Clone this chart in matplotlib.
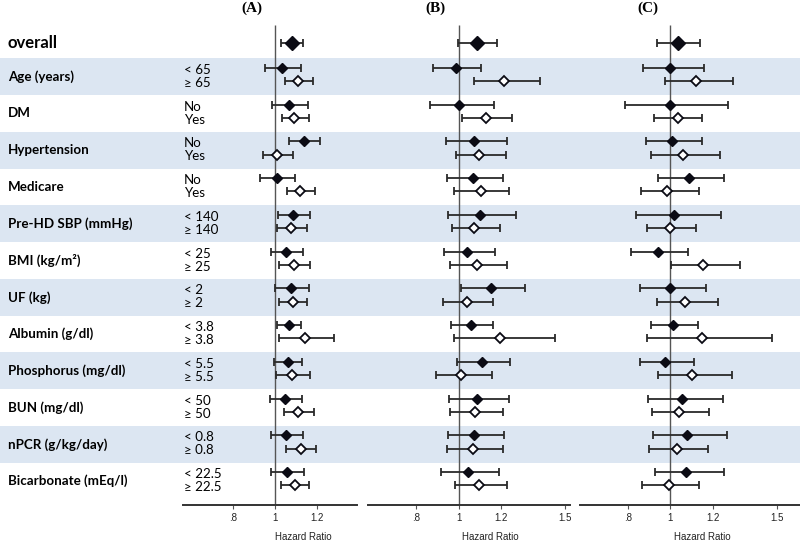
import matplotlib
matplotlib.use("Agg")
import matplotlib.pyplot as plt

# ---------------- data ----------------
groups = ["Age (years)", "DM", "Hypertension", "Medicare", "Pre-HD SBP (mmHg)",
          "BMI (kg/m²)", "UF (kg)", "Albumin (g/dl)", "Phosphorus (mg/dl)",
          "BUN (mg/dl)", "nPCR (g/kg/day)", "Bicarbonate (mEq/l)"]
sub_labels = [["< 65", "≥ 65"], ["No", "Yes"], ["No", "Yes"], ["No", "Yes"],
              ["< 140", "≥ 140"], ["< 25", "≥ 25"], ["< 2", "≥ 2"],
              ["< 3.8", "≥ 3.8"], ["< 5.5", "≥ 5.5"], ["< 50", "≥ 50"],
              ["< 0.8", "≥ 0.8"], ["< 22.5", "≥ 22.5"]]
panel_titles = ["(A)", "(B)", "(C)"]
ticks_A = [0.8, 1.0, 1.2]
ticks_BC = [0.8, 1.0, 1.2, 1.5]
tick_labels_A = [".8", "1", "1.2"]
tick_labels_BC = [".8", "1", "1.2", "1.5"]
xlabel = "Hazard Ratio"

# Panel A: overall (hr, lo, hi); per group [first, second]
overall_A = (1.081, 1.030, 1.136)
hr_A = [[1.036, 1.112], [1.067, 1.094], [1.141, 1.013], [1.011, 1.122],
        [1.089, 1.079], [1.054, 1.090], [1.078, 1.089], [1.068, 1.144],
        [1.062, 1.082], [1.049, 1.113], [1.052, 1.124], [1.059, 1.095]]
lo_A = [[0.954, 1.049], [0.989, 1.033], [1.070, 0.944], [0.930, 1.059],
        [1.014, 1.011], [0.982, 1.022], [1.001, 1.020], [1.013, 1.022],
        [0.998, 1.005], [0.978, 1.046], [0.981, 1.054], [0.982, 1.029]]
hi_A = [[1.124, 1.181], [1.157, 1.163], [1.217, 1.089], [1.097, 1.192],
        [1.168, 1.154], [1.135, 1.168], [1.162, 1.155], [1.125, 1.284],
        [1.129, 1.167], [1.130, 1.189], [1.133, 1.197], [1.141, 1.165]]

# Panel B
overall_B = (1.085, 0.995, 1.178)
hr_B = [[0.986, 1.214], [1.001, 1.127], [1.073, 1.097], [1.069, 1.103],
        [1.100, 1.073], [1.041, 1.085], [1.153, 1.038], [1.056, 1.192],
        [1.108, 1.012], [1.085, 1.077], [1.073, 1.069], [1.042, 1.095]]
lo_B = [[0.879, 1.073], [0.865, 1.017], [0.942, 0.986], [0.945, 0.979],
        [0.951, 0.969], [0.930, 0.958], [1.011, 0.928], [0.964, 0.977],
        [0.991, 0.892], [0.956, 0.961], [0.951, 0.945], [0.915, 0.983]]
hi_B = [[1.105, 1.380], [1.164, 1.250], [1.225, 1.222], [1.209, 1.235],
        [1.271, 1.194], [1.172, 1.225], [1.313, 1.163], [1.163, 1.454],
        [1.241, 1.156], [1.235, 1.209], [1.213, 1.208], [1.191, 1.225]]

# Panel C
overall_C = (1.034, 0.937, 1.141)
hr_C = [[1.000, 1.119], [0.997, 1.034], [1.006, 1.061], [1.087, 0.986],
        [1.017, 0.998], [0.941, 1.154], [0.998, 1.069], [1.014, 1.147],
        [0.976, 1.102], [1.057, 1.040], [1.078, 1.030], [1.075, 0.992]]
lo_C = [[0.870, 0.974], [0.786, 0.925], [0.884, 0.908], [0.942, 0.861],
        [0.841, 0.889], [0.816, 1.002], [0.857, 0.938], [0.909, 0.892],
        [0.857, 0.942], [0.896, 0.916], [0.919, 0.902], [0.930, 0.868]]
hi_C = [[1.156, 1.293], [1.272, 1.150], [1.147, 1.235], [1.254, 1.134],
        [1.237, 1.122], [1.083, 1.327], [1.166, 1.223], [1.128, 1.477],
        [1.113, 1.290], [1.246, 1.181], [1.265, 1.175], [1.251, 1.135]]

# ---------------- layout / style ----------------
W, H = 800, 542
AXIS_Y = 505
ROW0, PITCH = 58.3, 36.75
OVERALL_Y = 43
BAND = "#dce6f2"
LINE = "#2a2a2a"
MK = "#0b0b14"
FONT = ["Lato", "DejaVu Sans"]
SANS = ["Liberation Sans", "DejaVu Sans"]
SERIF = ["Liberation Serif", "DejaVu Serif"]

fig = plt.figure(figsize=(8, 5.42), dpi=100)
bg = fig.add_axes([0, 0, 1, 1])
bg.set_xlim(0, W)
bg.set_ylim(H, 0)
bg.axis("off")

for k, g in enumerate(groups):
    top = ROW0 + k * PITCH
    if k % 2 == 0:
        bg.axhspan(top, top + PITCH, color=BAND, lw=0, zorder=0)
    bg.text(8, top + PITCH / 2, g, ha="left", va="center", fontsize=9.6,
            fontweight="bold", family=FONT)
    bg.text(184, top + 11.5, sub_labels[k][0], ha="left", va="center",
            fontsize=9.6, family=FONT)
    bg.text(184, top + 24.5, sub_labels[k][1], ha="left", va="center",
            fontsize=9.6, family=FONT)
bg.text(8, OVERALL_Y, "overall", ha="left", va="center", fontsize=12,
        fontweight="bold", family=FONT)

panels = [
    dict(px=(183, 357), one=274.7, ppu=210, ov=overall_A, hr=hr_A, lo=lo_A, hi=hi_A,
         ticks=ticks_A, tl=tick_labels_A, title_x=252, xl_x=303),
    dict(px=(368, 570), one=458.7, ppu=213, ov=overall_B, hr=hr_B, lo=lo_B, hi=hi_B,
         ticks=ticks_BC, tl=tick_labels_BC, title_x=435, xl_x=490),
    dict(px=(580, 800), one=670.3, ppu=213, ov=overall_C, hr=hr_C, lo=lo_C, hi=hi_C,
         ticks=ticks_BC, tl=tick_labels_BC, title_x=648, xl_x=702),
]

for p, title in zip(panels, panel_titles):
    x0, x1 = p["px"]
    ax = fig.add_axes([x0 / W, (H - AXIS_Y) / H, (x1 - x0) / W, AXIS_Y / H])
    ax.patch.set_alpha(0)
    ax.set_xlim(1 + (x0 - p["one"]) / p["ppu"], 1 + (x1 - p["one"]) / p["ppu"])
    ax.set_ylim(AXIS_Y, 0)
    for s in ("top", "left", "right"):
        ax.spines[s].set_visible(False)
    ax.spines["bottom"].set_linewidth(1.4)
    ax.spines["bottom"].set_color("#333333")
    ax.set_yticks([])
    ax.set_xticks(p["ticks"])
    ax.set_xticklabels(p["tl"], family=SANS, fontsize=7, color="#222222")
    ax.tick_params(axis="x", length=3, width=0.8, color="#555555", pad=3)

    ax.vlines(1, 25, AXIS_Y, color="#555555", lw=1.0, zorder=1)

    # overall
    hr, lo, hi = p["ov"]
    ax.errorbar([hr], [OVERALL_Y], xerr=[[hr - lo], [hi - hr]], fmt="none",
                ecolor=LINE, elinewidth=1.3, capsize=2.6, capthick=1.3, zorder=2)
    ax.plot([hr], [OVERALL_Y], marker="D", ms=7.2, color=MK, mec=MK, ls="none", zorder=3)

    for k in range(len(groups)):
        top = ROW0 + k * PITCH
        ys = [top + 9.5, top + 22.7]
        for j in range(2):
            h, l, u = p["hr"][k][j], p["lo"][k][j], p["hi"][k][j]
            ax.errorbar([h], [ys[j]], xerr=[[h - l], [u - h]], fmt="none",
                        ecolor=LINE, elinewidth=1.3, capsize=2.6, capthick=1.3,
                        zorder=2)
            if j == 0:
                ax.plot([h], [ys[j]], marker="D", ms=4.6, color=MK, mec=MK,
                        ls="none", zorder=3)
            else:
                ax.plot([h], [ys[j]], marker="D", ms=4.6, mfc="white", mec=MK,
                        mew=1.3, ls="none", zorder=3)

    bg.text(p["title_x"], 8, title, ha="center", va="center", fontsize=11,
            fontweight="bold", family=SERIF)
    bg.text(p["xl_x"], 537, xlabel, ha="center", va="center", fontsize=7,
            family=SANS, color="#222222")

fig.savefig("out.png", dpi=100)
